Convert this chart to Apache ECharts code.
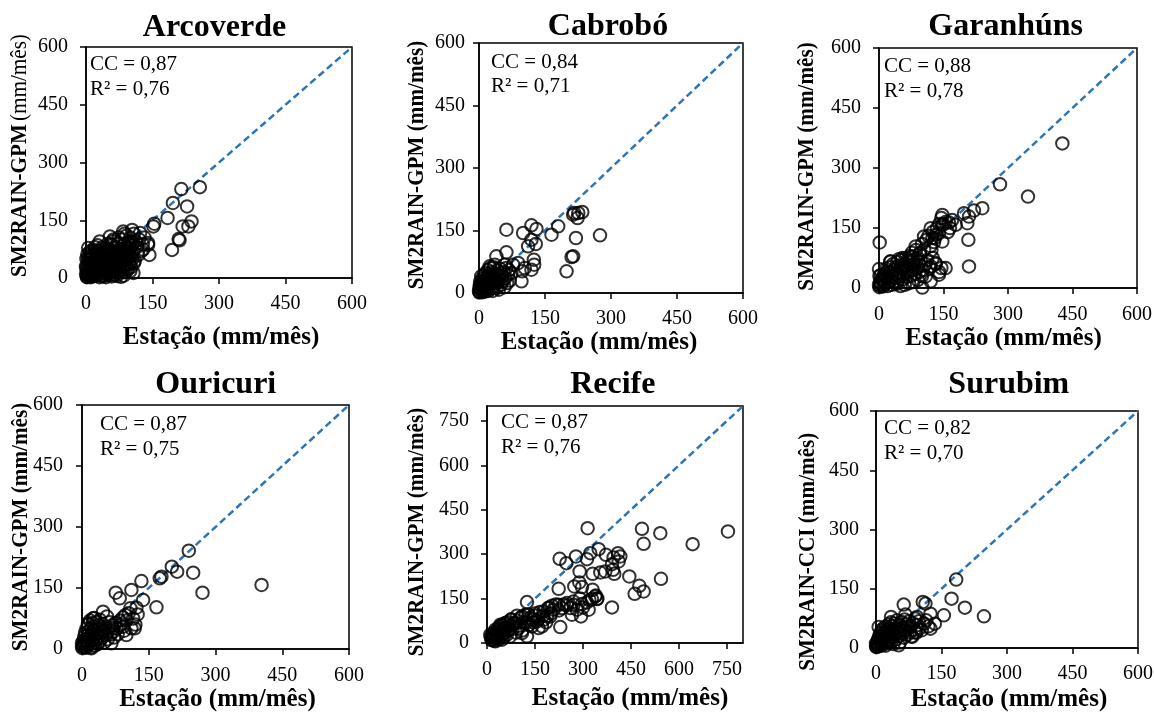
<!DOCTYPE html>
<html>
<head>
<meta charset="utf-8">
<script src="https://cdn.jsdelivr.net/npm/echarts@6/dist/echarts.min.js"></script>
<style>
  html, body { margin: 0; padding: 0; background: #fff; }
  #chart { width: 1154px; height: 713px; }
</style>
</head>
<body>
<div id="chart"></div>
<script>
// Monthly rainfall: rain gauge (x) versus satellite product (y), mm/month
const stations = ['Arcoverde', 'Cabrobó', 'Garanhúns', 'Ouricuri', 'Recife', 'Surubim'];
const ccValues = ['0,87', '0,84', '0,88', '0,87', '0,87', '0,82'];
const r2Values = ['0,76', '0,71', '0,78', '0,75', '0,76', '0,70'];
const productNames = ['SM2RAIN-GPM', 'SM2RAIN-GPM', 'SM2RAIN-GPM', 'SM2RAIN-GPM', 'SM2RAIN-GPM', 'SM2RAIN-CCI'];
const unitLabel = '(mm/mês)';
const xAxisName = 'Estação (mm/mês)';
const axisMax = [600, 600, 600, 600, 800, 600];
const tickStep = 150;

const arcoverde = [
  [256.8,236],[215,231],[196,195],[228,186],[184,156],[152,134],[154,141],[218,134],[238,147],[231,134],
  [209,101],[211,98],[194,73],[143,60],[140,86],[129,74],[107,13],[104,125],[84,121],[122,117],
  [140,91],[31,95],[54,108],[5,78],[79,3],
  [2,2],[3,8],[5,15],[1,25],[4,35],[6,45],[8,55],[3,62],[10,70],[12,5],[14,12],[15,28],[16,40],[18,20],
  [20,50],[22,8],[24,32],[25,60],[27,15],[28,45],[30,70],[32,25],[34,55],[35,5],[36,38],[38,80],[40,18],
  [42,48],[44,65],[45,30],[47,10],[48,88],[50,55],[52,40],[53,22],[55,72],[57,60],[58,35],[60,95],[61,48],
  [63,15],[64,80],[66,58],[68,28],[69,68],[70,42],[72,90],[73,52],[75,20],[76,75],[78,62],[80,38],[81,100],
  [83,55],[85,85],[86,30],[88,70],[90,48],[91,110],[93,62],[95,92],[96,40],[98,78],[100,105],[102,55],
  [104,88],[106,70],[108,115],[110,45],[112,95],[115,80],[118,60],[120,100],[125,70],[128,88],[132,105],
  [0,10],[0,30],[1,50],[2,18],[7,28],[9,40],[11,60],[13,22],[17,8],[19,35],[21,72],[23,48],[26,85],[29,36],
  [33,12],[37,68],[41,30],[46,50],[49,76],[54,26],[59,85],[62,100],[67,45],[71,34],[74,105],[79,50],[84,68],
  [87,115],[92,80],[97,58],[101,95],[58,4],[45,2],[30,2],[88,15],[95,25],[65,8],
  [3,3],[6,6],[9,12],[12,18],[15,4],[18,26],[21,14],[24,6],[27,34],[30,20],[33,42],[36,28],[39,8],[42,36],
  [45,20],[48,44],[51,12],[54,50],[57,30],[60,18],[63,40],[66,24],[69,52],[72,12],[75,44],[78,30],[81,58],
  [84,22],[87,46],[90,34],[93,20],[96,52],[99,36],[102,28],[105,50],[108,38],[4,48],[8,66],[14,54],[20,80],
  [26,70],[32,62],[38,58],[44,78],[50,68],[56,88],[62,64],[68,80],[74,62],[80,72],[86,60],[92,70],[98,90],
  [104,62],[110,78],[10,2],[20,12],[40,4],[55,8],[70,5],[85,6],[100,18]
];

const cabrobo = [
  [225.6,192],[234.7,194.4],[216.5,192],[224,180],[214,188],[180,160],[164.8,140],[275,138.4],[220.3,132],
  [119.2,162.4],[130.6,153.6],[100.3,144],[119.2,128],[129.1,117.6],[111.6,112],[62.3,152],[62.3,97.6],
  [39.5,88],[124.6,80],[125.4,68],[119.2,56],[104,60],[98,52],[210.4,86.4],[214,88],[199,52],[88.9,72],
  [77.5,68],[58.5,68],[35.7,68],[24.3,64],[96.5,28],[73.7,48],[50.9,48],
  [2,3],[3,10],[4,18],[5,6],[6,25],[7,14],[8,35],[9,2],[10,20],[11,42],[12,8],[13,30],[14,15],[15,48],
  [16,4],[17,24],[18,38],[19,12],[20,55],[21,28],[22,6],[23,44],[24,18],[25,34],[26,60],[27,10],[28,50],
  [29,22],[30,40],[31,5],[32,30],[33,62],[34,16],[35,46],[36,26],[38,36],[40,12],[41,54],[42,24],[44,44],
  [45,8],[46,32],[48,58],[50,20],[52,40],[54,28],[56,50],[58,14],[60,36],[62,60],[64,24],[66,45],[68,55],
  [70,30],[1,1],[0,5],[1,12],[3,28],[5,40],[2,20]
];

const garanhuns = [
  [426.4,361.5],[281.4,259.3],[346.5,228.5],[240.3,199.4],[220.9,193.6],[209.3,178.7],[197.7,187],[205.4,162],
  [207.8,120.5],[209.3,54],[178.3,157.9],[162.8,163.7],[147.3,182.8],[147.3,157.9],[120.2,149.6],[104.7,128.8],
  [124,124.7],[139.5,137.1],[147.3,116.3],[155,49.9],[139.5,33.2],[120.2,16.6],[100.8,1],[131.8,62.3],
  [120.2,54],[85.3,103.9],[95,87.3],[77.5,79],[54.3,74.8],[27.1,66.5],[1.6,113.8],[0,47.4],[11.6,29],
  [62,54],[108.5,29],
  [100,110],[110,120],[115,130],[125,140],[130,125],[135,150],[140,160],[120,105],[105,95],[95,85],[90,75],
  [80,70],[70,65],[75,55],[60,60],[65,45],[55,50],[50,40],[45,55],[40,35],[35,45],[30,30],[25,38],[20,25],
  [15,30],[10,18],[5,10],[3,5],[1,2],[8,25],[12,35],[18,42],[22,15],[28,20],[33,60],[38,25],[42,65],[48,30],
  [52,70],[58,35],[62,75],[68,40],[72,80],[78,45],[82,60],[88,50],[92,65],[98,55],[102,45],[108,60],[112,70],
  [118,50],[125,75],[132,60],[140,40],[145,50],[150,160],[155,165],[160,140],[165,150],[170,170],[145,175],
  [135,135],[128,115],[122,95],[100,30],[90,20],[80,15],[70,12],[60,8],[50,5],[40,10],[30,8],[20,5],[10,4],
  [2,15],[4,32],[6,22],[14,10],[16,48],[24,52],[36,12],[44,18],[56,22],[64,28],[74,30],[84,35],[94,40],
  [86,95],[76,88],[66,70],[46,72],[26,66],[0,8],[1,30]
];

const ouricuri = [
  [403.5,157.4],[270.8,138.5],[249.8,187.7],[240,241.8],[213.8,190.2],[201.8,202.5],[178.5,177.9],[174.8,173.8],
  [167.3,102.5],[133.5,167.2],[137.3,120.5],[111,145.1],[75.8,138.5],[84.8,124.6],[108.8,100],[97.5,83.6],
  [122.3,101.6],[111,50.8],[118.5,50.8],[99.8,34.4],[92.3,54.9],[69.8,50.8],[47.3,91.8],[24.8,75.4],
  [13.5,63],[21,1.6],
  [1,2],[2,10],[3,20],[4,5],[5,30],[6,14],[7,40],[8,24],[9,3],[10,50],[11,18],[12,34],[13,8],[14,60],[15,26],
  [16,44],[17,12],[18,70],[19,32],[20,4],[21,52],[22,20],[23,38],[24,64],[25,14],[26,46],[27,28],[28,76],
  [29,8],[30,56],[31,36],[32,22],[33,66],[34,42],[35,12],[36,30],[37,58],[38,48],[39,18],[40,72],[42,38],
  [44,26],[46,62],[48,44],[50,16],[52,54],[54,34],[56,80],[58,24],[60,48],[62,66],[64,36],[66,14],[68,58],
  [70,42],[72,28],[75,64],[78,50],[80,36],[85,70],[88,60],[92,78],[95,45],[100,70],[105,88],[115,75],
  [120,60],[125,85],[0,6],[0,15]
];

const recife = [
  [314.5,387.6],[484.3,385.4],[541.6,370.7],[753,376.4],[489.5,334.8],[642.6,333.7],[227,284.2],[248,269.6],
  [278,292],[312.4,283.1],[322.8,303.3],[349,316.8],[371.8,297.7],[395.7,288.7],[409.3,303.3],[416.6,292],
  [411.4,275.2],[390.5,266.2],[393.7,247.1],[369.7,241.5],[354.1,238.1],[330.1,233.6],[289.5,241.5],
  [397.8,233.6],[444.7,224.7],[543.7,216.8],[288.5,204.4],[272.8,191],[296.8,188.7],[330.1,179.7],
  [223.9,183.1],[476,193.2],[489.5,174],[461.4,166.2],[338.5,157.2],[343.7,148.3],[328,148.3],[312.4,137],
  [296.8,131.4],[270.7,129.1],[249.9,126.9],[223.9,129.1],[203,125.8],[190.5,117.9],[265.5,95.4],
  [293.7,89.8],[390.5,120.2],[125,138.1],[229,53.9],[197.8,89.8],[177,78.6],[156.2,73],[130.1,95.4],
  [109.3,89.8],[93.7,92.1],[76,78.6],[57.2,67.3],[41.6,61.7],[26,44.9],[10.3,28],[15.5,11.1],[36.4,33.6],
  [161.4,50.5],[187.4,89.8],[140.5,56.1],[98.9,50.5],[119.7,67.3],[67.6,44.9],[88.5,67.3],[208.2,112.3],
  [177,106.7],[234.3,117.9],[317.6,112.3],[281.2,112.3],[57.2,50.5],[109.3,33.6],[125,22.4],[46.8,11.1],
  [26,5.5],[140.5,78.6],[171.8,56.1],[151,92.1],
  [12,20],[14,10],[16,30],[18,18],[20,25],[22,8],[24,35],[26,15],[28,28],[30,40],[32,20],[34,48],[36,12],
  [38,30],[40,55],[42,22],[44,38],[46,60],[48,28],[50,45],[52,18],[54,65],[56,35],[58,52],[62,28],[64,70],
  [66,42],[70,58],[72,22],[75,80],[80,48],[85,66],[90,35],[95,75],[100,58],[105,85],[110,42],[115,70],
  [120,95],[130,60],[135,85],[145,70],[150,100],[160,80],[165,105],[175,92],[185,70],[195,120],[200,100],
  [215,130],[225,110],[240,130],[250,135],[260,118],[270,140],[300,120],[320,145],[340,160],[345,150],[290,150]
];

const surubim = [
  [183.7,173.2],[173,125],[203.6,102.2],[247.2,80.3],[155.4,82.8],[134.7,61.7],[124.7,49],[107.1,116.6],
  [113.3,112.4],[63.5,109.9],[34.4,78.6],[67.3,84.5],[124.7,87],[94,78.6],[6.1,53.2],[52,40.6],[90.3,40.6],
  [82.6,27.9],[52,6.8],
  [1,2],[2,8],[3,15],[4,4],[5,22],[6,10],[7,30],[8,18],[9,5],[10,38],[11,25],[12,12],[13,45],[14,30],[15,8],
  [16,20],[17,50],[18,35],[19,14],[20,42],[21,26],[22,6],[23,55],[24,32],[25,18],[26,46],[27,38],[28,12],
  [29,60],[30,28],[31,50],[32,20],[33,40],[34,65],[35,15],[36,34],[37,56],[38,26],[39,45],[40,10],[42,62],
  [44,36],[45,50],[46,22],[48,70],[50,42],[52,30],[54,58],[55,14],[56,48],[58,66],[60,36],[62,52],[64,26],
  [66,72],[68,44],[70,60],[72,34],[74,50],[76,68],[78,40],[80,55],[82,30],[85,62],[88,46],[90,75],[92,38],
  [95,58],[98,68],[100,50],[105,45],[110,62],[115,70],[120,55],[0,5],[0,12]
];

const stationData = [arcoverde, cabrobo, garanhuns, ouricuri, recife, surubim];

// ---- layout (pixels) ----
const SERIF = '"Liberation Serif", "Times New Roman", serif';
const gridBoxes = [
  [86, 47, 266, 231], [479, 43, 264, 250], [879, 48, 258, 240],
  [82, 405, 267, 244], [487, 406, 256, 237], [876, 411, 262, 237]
];
const titleAnchors = [[214.5, 27.5], [608, 27], [1005.7, 27], [215.8, 385], [612.8, 385], [1008.8, 385]];
const statAnchors = [[90, 64.6], [491, 62.2], [884, 66.9], [100, 424.6], [501, 422.9], [884, 428.9]];
const statLineGap = 24.5;
const yNameAnchors = [[20, 155.5], [417, 165], [807, 166.5], [21.5, 527], [417.5, 532], [808, 551.7]];
const xNameGaps = [47.5, 32.5, 37.5, 37.8, 43.5, 39];
const xNamePads = [[0, 0, 0, 4], [0, 24, 0, 0], [0, 9, 0, 0], [0, 0, 0, 4], [0, 0, 0, 30], [0, 0, 0, 4]];
const yLabelMargins = [18, 14, 18, 19, 18, 17];
const xLabelMargins = [16, 16, 17, 17, 17, 16];

const grids = [], xAxes = [], yAxes = [], series = [], graphics = [];

stationData.forEach((points, i) => {
  const [left, top, width, height] = gridBoxes[i];
  grids.push({
    left, top, width, height,
    show: true, borderColor: '#000', borderWidth: 1.5,
    backgroundColor: 'transparent', containLabel: false, outerBoundsMode: 'none'
  });

  const common = {
    type: 'value', gridIndex: i, min: 0, max: axisMax[i], interval: tickStep,
    axisLine: { show: true, onZero: false, lineStyle: { color: '#000', width: 1.5 } },
    axisTick: { show: true, inside: false, length: 6, lineStyle: { color: '#000', width: 1.5 } },
    splitLine: { show: false }
  };

  xAxes.push(Object.assign({}, common, {
    name: xAxisName, nameLocation: 'middle', nameGap: xNameGaps[i],
    nameTextStyle: {
      fontFamily: SERIF, fontSize: 25, fontWeight: 'bold', color: '#000', padding: xNamePads[i]
    },
    axisLabel: {
      fontFamily: SERIF, fontSize: 20, color: '#000', margin: xLabelMargins[i],
      showMinLabel: true, showMaxLabel: axisMax[i] % tickStep === 0
    }
  }));

  yAxes.push(Object.assign({}, common, {
    axisLabel: {
      fontFamily: SERIF, fontSize: 20, color: '#000', margin: yLabelMargins[i],
      showMinLabel: true, showMaxLabel: axisMax[i] % tickStep === 0
    }
  }));

  // 1:1 reference line
  series.push({
    type: 'line', xAxisIndex: i, yAxisIndex: i,
    data: [[0, 0], [axisMax[i], axisMax[i]]],
    showSymbol: false, silent: true, z: 1,
    lineStyle: { color: '#2E75B6', width: 2.5, type: [7, 4] }
  });

  // monthly pairs
  series.push({
    type: 'scatter', xAxisIndex: i, yAxisIndex: i,
    data: points, symbol: 'circle', symbolSize: 12.5, clip: false, z: 2,
    itemStyle: { color: 'rgba(0,0,0,0)', borderColor: '#000', borderWidth: 2 }
  });

  // panel title
  graphics.push({
    type: 'text', x: titleAnchors[i][0], y: titleAnchors[i][1],
    style: {
      text: stations[i], font: 'bold 32px ' + SERIF, fill: '#000',
      align: 'center', verticalAlign: 'middle', textAlign: 'center', textVerticalAlign: 'middle'
    }
  });

  // correlation statistics
  [['CC = ' + ccValues[i], 0], ['R² = ' + r2Values[i], statLineGap]].forEach(([txt, dy]) => {
    graphics.push({
      type: 'text', x: statAnchors[i][0], y: statAnchors[i][1] + dy,
      style: {
        text: txt, font: '21px ' + SERIF, fill: '#000',
        align: 'left', verticalAlign: 'middle', textAlign: 'left', textVerticalAlign: 'middle'
      }
    });
  });

  // vertical axis title (unit in regular weight on the first panel)
  const yText = i === 0
    ? '{b|' + productNames[i] + '} {n|' + unitLabel + '}'
    : '{b|' + productNames[i] + ' ' + unitLabel + '}';
  graphics.push({
    type: 'text', x: yNameAnchors[i][0], y: yNameAnchors[i][1],
    rotation: Math.PI / 2, scaleX: 0.92, scaleY: 1,
    style: {
      text: yText, fill: '#000',
      align: 'center', verticalAlign: 'middle', textAlign: 'center', textVerticalAlign: 'middle',
      rich: {
        b: { font: 'bold 23px ' + SERIF, fill: '#000' },
        n: { font: '23px ' + SERIF, fill: '#000' }
      }
    }
  });
});

const chart = echarts.init(document.getElementById('chart'), null, { renderer: 'canvas' });
chart.setOption({
  backgroundColor: '#fff',
  animation: false,
  grid: grids,
  xAxis: xAxes,
  yAxis: yAxes,
  series: series,
  graphic: graphics
});
</script>
</body>
</html>
